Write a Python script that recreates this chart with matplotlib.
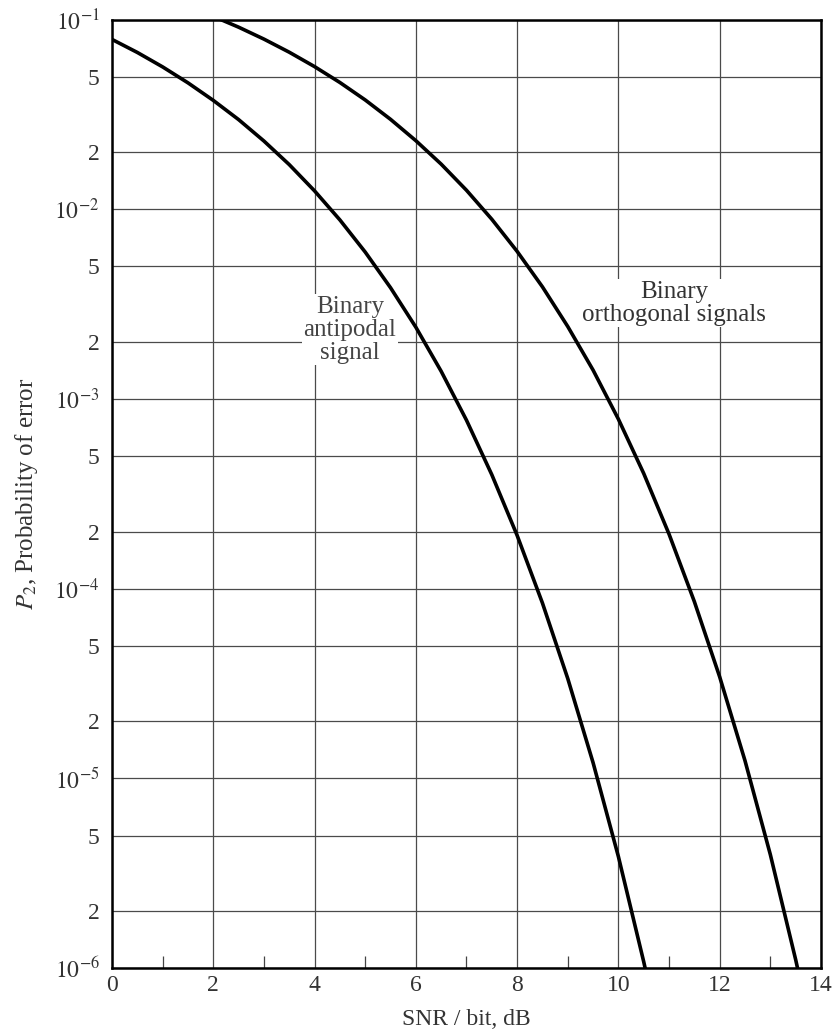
import numpy as np
import matplotlib.pyplot as plt
from matplotlib.ticker import FixedLocator

plt.rcParams['font.family'] = ['Liberation Serif', 'DejaVu Serif']
plt.rcParams['mathtext.fontset'] = 'stix'

# values
snr_anti = [0, 0.5, 1, 1.5, 2, 2.5, 3, 3.5, 4, 4.5, 5, 5.5, 6, 6.5, 7, 7.5, 8,
            8.5, 9, 9.5, 10, 10.5, 10.6]
pe_anti = [7.86e-2, 6.71e-2, 5.63e-2, 4.64e-2, 3.75e-2, 2.97e-2, 2.29e-2,
           1.72e-2, 1.25e-2, 8.79e-3, 5.95e-3, 3.86e-3, 2.39e-3, 1.40e-3,
           7.73e-4, 3.99e-4, 1.91e-4, 8.40e-5, 3.36e-5, 1.21e-5, 3.87e-6,
           1.08e-6, 8.2e-7]

snr_orth = [2, 2.5, 3, 3.5, 4, 4.5, 5, 5.5, 6, 6.5, 7, 7.5, 8, 8.5, 9, 9.5,
            10, 10.5, 11, 11.5, 12, 12.5, 13, 13.5, 13.6]
pe_orth = [1.04e-1, 9.12e-2, 7.89e-2, 6.73e-2, 5.65e-2, 4.66e-2, 3.77e-2,
           2.98e-2, 2.30e-2, 1.73e-2, 1.26e-2, 8.86e-3, 6.00e-3, 3.90e-3,
           2.41e-3, 1.42e-3, 7.83e-4, 4.05e-4, 1.94e-4, 8.55e-5, 3.43e-5,
           1.24e-5, 3.97e-6, 1.11e-6, 8.4e-7]

x_ticks = [0, 2, 4, 6, 8, 10, 12, 14]
x_minor = [1, 3, 5, 7, 9, 11, 13]
y_ticks = [1e-6, 2e-6, 5e-6, 1e-5, 2e-5, 5e-5, 1e-4, 2e-4, 5e-4,
           1e-3, 2e-3, 5e-3, 1e-2, 2e-2, 5e-2, 1e-1]
y_labels = [r'$10^{-6}$', '2', '5', r'$10^{-5}$', '2', '5', r'$10^{-4}$', '2', '5',
            r'$10^{-3}$', '2', '5', r'$10^{-2}$', '2', '5', r'$10^{-1}$']

fig = plt.figure(figsize=(8.36, 10.31), dpi=100)
ax = fig.add_axes([0.134, 0.061, 0.848, 0.92])

ax.plot(snr_anti, pe_anti, color='black', lw=2.6, zorder=4)
ax.plot(snr_orth, pe_orth, color='black', lw=2.6, zorder=4)

ax.set_yscale('log')
ax.set_xlim(0, 14)
ax.set_ylim(1e-6, 1e-1)

ax.xaxis.set_major_locator(FixedLocator(x_ticks))
ax.xaxis.set_minor_locator(FixedLocator(x_minor))
ax.yaxis.set_major_locator(FixedLocator(y_ticks))
ax.yaxis.set_minor_locator(FixedLocator([]))
ax.set_yticklabels(y_labels)

ax.grid(True, which='major', color='#4a4a4a', lw=0.9)
ax.tick_params(axis='both', which='major', length=0, labelsize=17, colors='#333333')
ax.tick_params(axis='x', which='major', pad=5)
ax.tick_params(axis='y', which='major', pad=9)
ax.tick_params(axis='x', which='minor', direction='in', length=9, width=0.9, color='#444444')
for s in ax.spines.values():
    s.set_linewidth(1.8)
    s.set_zorder(5)

ax.set_xlabel('SNR / bit, dB', fontsize=17, color='#333333', labelpad=9)
ax.set_ylabel(r'$P_2$, Probability of error', fontsize=18, color='#333333', labelpad=10)

ax.text(4.7, 2.32e-3, 'Binary\nantipodal\nsignal', ha='center', va='center',
        fontsize=18, color='#444444', linespacing=1.05, zorder=3,
        bbox=dict(facecolor='white', edgecolor='none', pad=1))
ax.text(11.1, 3.2e-3, 'Binary\northogonal signals', ha='center', va='center',
        fontsize=18, color='#333333', linespacing=1.05, zorder=3,
        bbox=dict(facecolor='white', edgecolor='none', pad=1))

fig.savefig('out.png', dpi=100)
